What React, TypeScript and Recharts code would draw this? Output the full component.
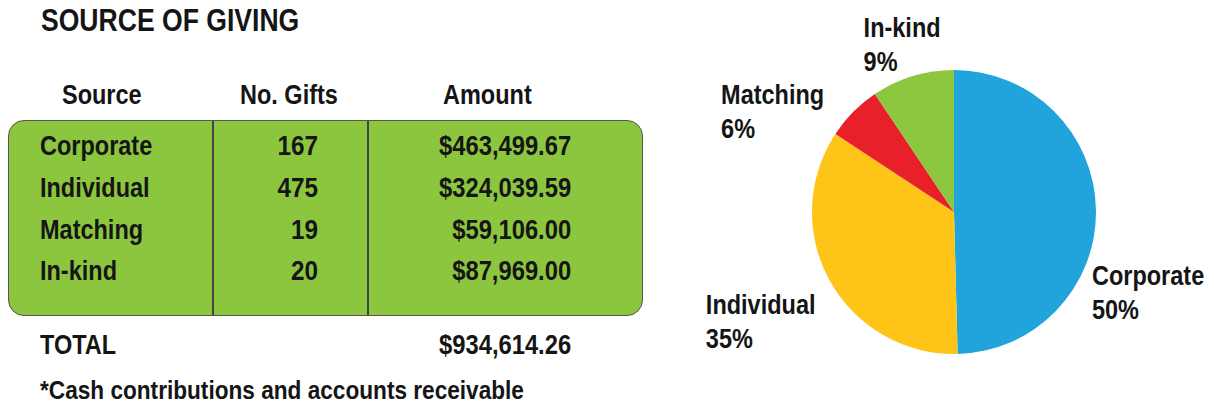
import React, { useEffect } from 'react';
import { PieChart, Pie, Cell } from 'recharts';

const sources = ['Corporate', 'Individual', 'Matching', 'In-kind'];
const giftCounts = [167, 475, 19, 20];
const amounts = [463499.67, 324039.59, 59106.0, 87969.0];
const totalAmount = 934614.26;
const sliceColors = ['#21A3DC', '#FEC418', '#E8202A', '#8DC63F'];

const FONT = '"Liberation Sans", Arial, sans-serif';
const INK = '#151515';
const SQUEEZE = 0.87; // the print uses a condensed face

const money = (v: number) =>
  '$' + v.toLocaleString('en-US', { minimumFractionDigits: 2, maximumFractionDigits: 2 });

// nudge each label from its slice's rim point to where the print put it
const labelNudge: Record<string, [number, number]> = {
  Corporate: [-4, 75],
  Individual: [-124, 33],
  Matching: [-132, -8],
  'In-kind': [-49, -39],
};

const renderLabel = (props: any) => {
  const { cx, cy, midAngle, outerRadius, name, percent } = props;
  const rad = Math.PI / 180;
  const px = cx + outerRadius * Math.cos(-midAngle * rad);
  const py = cy + outerRadius * Math.sin(-midAngle * rad);
  const [dx, dy] = labelNudge[name] || [0, 0];
  return (
    <g transform={`translate(${px + dx},${py + dy}) scale(${SQUEEZE},1)`}>
      <text x={0} y={0} fill={INK} fontFamily={FONT} fontWeight="bold" fontSize={27} textAnchor="start">
        <tspan x={0}>{name}</tspan>
        <tspan x={0} dy={34}>{Math.round(percent * 100)}%</tspan>
      </text>
    </g>
  );
};

type TProps = {
  left?: number;
  right?: number;
  top: number;
  size?: number;
  squeeze?: number;
  children: React.ReactNode;
};

function T({ left, right, top, size = 27, squeeze = SQUEEZE, children }: TProps) {
  const alignRight = right !== undefined;
  return (
    <div
      style={{
        position: 'absolute',
        left: alignRight ? undefined : left,
        right: alignRight ? 1214 - (right as number) : undefined,
        top,
        fontFamily: FONT,
        fontWeight: 'bold',
        fontSize: size,
        lineHeight: `${size + 1}px`,
        color: INK,
        whiteSpace: 'nowrap',
        transform: `scaleX(${squeeze})`,
        transformOrigin: alignRight ? 'right center' : 'left center',
      }}
    >
      {children}
    </div>
  );
}

export default function App() {
  useEffect(() => {
    document.body.style.margin = '0';
  }, []);

  const pieData = sources.map((s, i) => ({ name: s, value: amounts[i] }));
  const rowCenters = [146, 188, 230, 271];

  return (
    <div style={{ position: 'relative', width: 1214, height: 406, background: '#fff', overflow: 'hidden' }}>
      <T left={41} top={4} size={32} squeeze={0.83}>SOURCE OF GIVING</T>

      <T left={62} top={81}>Source</T>
      <T left={240} top={81}>No. Gifts</T>
      <T left={443} top={81}>Amount</T>

      <div
        style={{
          position: 'absolute',
          left: 8,
          top: 120,
          width: 635,
          height: 196,
          background: '#8CC63F',
          border: '1.5px solid #555',
          borderRadius: 16,
          boxSizing: 'border-box',
        }}
      />
      <div style={{ position: 'absolute', left: 212, top: 121, width: 1.5, height: 194, background: '#444' }} />
      <div style={{ position: 'absolute', left: 367, top: 121, width: 1.5, height: 194, background: '#444' }} />

      {sources.map((s, i) => (
        <React.Fragment key={s}>
          <T left={40} top={rowCenters[i] - 14}>{s}</T>
          <T right={318} top={rowCenters[i] - 14} squeeze={0.9}>{giftCounts[i]}</T>
          <T right={571} top={rowCenters[i] - 14} squeeze={0.88}>{money(amounts[i])}</T>
        </React.Fragment>
      ))}

      <T left={40} top={331}>TOTAL</T>
      <T right={571} top={331} squeeze={0.88}>{money(totalAmount)}</T>

      <T left={40} top={377} size={26}>*Cash contributions and accounts receivable</T>

      <div style={{ position: 'absolute', left: 0, top: 0 }}>
        <PieChart width={1214} height={406} margin={{ top: 0, right: 0, bottom: 0, left: 0 }}>
          <Pie
            data={pieData}
            dataKey="value"
            nameKey="name"
            cx={954}
            cy={212}
            outerRadius={142}
            startAngle={90}
            endAngle={-270}
            stroke="none"
            label={renderLabel}
            labelLine={false}
            isAnimationActive={false}
          >
            {pieData.map((d, i) => (
              <Cell key={d.name} fill={sliceColors[i]} />
            ))}
          </Pie>
        </PieChart>
      </div>
    </div>
  );
}
